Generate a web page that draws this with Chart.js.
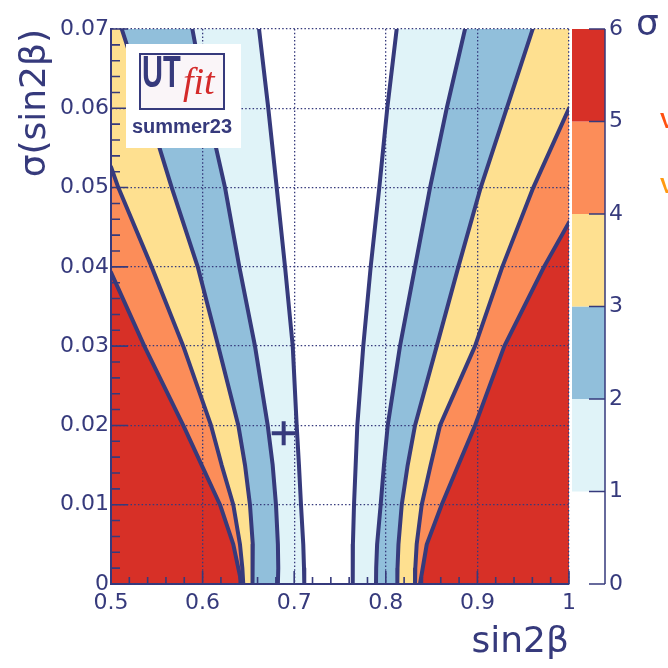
<!DOCTYPE html>
<html>
<head>
<meta charset="utf-8">
<script src="https://cdn.jsdelivr.net/npm/chart.js@4.4.1/dist/chart.umd.min.js"></script>
<style>
  html, body { margin: 0; padding: 0; background: #fff; }
</style>
</head>
<body>
<canvas id="sigmaMap" width="668" height="668"></canvas>
<script>
// sigma(sin2b) levels where the contours are sampled
const sigmaLevelsY = [0.07, 0.06, 0.05, 0.04, 0.03, 0.02, 0.015, 0.01, 0.005, 0.002, 0];

// sin2b positions of each n-sigma contour, left branch
const left1Sigma = [0.6616, 0.6717, 0.6809, 0.6900, 0.6984, 0.7027, 0.7052, 0.7074, 0.7099, 0.7107, 0.7110];
const left2Sigma = [0.5888, 0.6049, 0.6245, 0.6401, 0.6572, 0.6711, 0.6765, 0.6801, 0.6822, 0.6826, 0.6822];
const left3Sigma = [0.5117, 0.5397, 0.5663, 0.5947, 0.6171, 0.6390, 0.6463, 0.6517, 0.6548, 0.6550, 0.6540];
const left4SigmaY = [0.0526, 0.05, 0.04, 0.03, 0.02, 0.015, 0.01, 0.005, 0.002, 0];
const left4Sigma = [0.5, 0.5080, 0.5444, 0.5789, 0.6092, 0.6208, 0.6335, 0.6408, 0.6434, 0.6444];
const left5SigmaY = [0.0393, 0.03, 0.02, 0.015, 0.01, 0.005, 0.002, 0];
const left5Sigma = [0.5, 0.5364, 0.5789, 0.5990, 0.6190, 0.6335, 0.6390, 0.6427];

// right branch
const right1Sigma = [0.8119, 0.8016, 0.7929, 0.7835, 0.7754, 0.7689, 0.7671, 0.7653, 0.7641, 0.7639, 0.7639];
const right2Sigma = [0.8865, 0.8665, 0.8483, 0.8319, 0.8155, 0.8021, 0.7980, 0.7944, 0.7905, 0.7895, 0.7893];
const right3Sigma = [0.9604, 0.9320, 0.9036, 0.8792, 0.8556, 0.8319, 0.8239, 0.8174, 0.8138, 0.8128, 0.8126];
const right4SigmaY = [0.06, 0.05, 0.04, 0.03, 0.02, 0.015, 0.01, 0.005, 0.002, 0];
const right4Sigma = [1.0, 0.9610, 0.9272, 0.8974, 0.8592, 0.8490, 0.8392, 0.8337, 0.8322, 0.8319];
const right5SigmaY = [0.0456, 0.04, 0.03, 0.02, 0.015, 0.01, 0.005, 0.002, 0];
const right5Sigma = [1.0, 0.9727, 0.9294, 0.8974, 0.8792, 0.8610, 0.8447, 0.8403, 0.8373];

// best fit point
const bestFitX = [0.6885];
const bestFitY = [0.019];

// colour scale: n-sigma bands
const colorLevels = [0, 1, 2, 3, 4, 5, 6];
const bandColors = ["#ffffff", "#e0f3f8", "#91bfdb", "#fee090", "#fc8d59", "#d73027"];

const navy = "#363a7c";
const plotLeft = 111;
const plotRight = 569;
const plotBottom = 584;

Chart.defaults.font.family = "DejaVu Sans";

const toPoints = (xs, ys) => xs.map((x, i) => ({ x: x, y: ys[i] }));

// closed shape from a contour to the plot edge
const band = (xs, ys, edgeX) => {
  const pts = toPoints(xs, ys);
  pts.push({ x: edgeX, y: 0 });
  pts.push({ x: edgeX, y: ys[0] });
  return pts;
};

const contours = [
  { xs: left1Sigma, ys: sigmaLevelsY, edge: 0.5, level: 1 },
  { xs: left2Sigma, ys: sigmaLevelsY, edge: 0.5, level: 2 },
  { xs: left3Sigma, ys: sigmaLevelsY, edge: 0.5, level: 3 },
  { xs: left4Sigma, ys: left4SigmaY, edge: 0.5, level: 4 },
  { xs: left5Sigma, ys: left5SigmaY, edge: 0.5, level: 5 },
  { xs: right1Sigma, ys: sigmaLevelsY, edge: 1.0, level: 1 },
  { xs: right2Sigma, ys: sigmaLevelsY, edge: 1.0, level: 2 },
  { xs: right3Sigma, ys: sigmaLevelsY, edge: 1.0, level: 3 },
  { xs: right4Sigma, ys: right4SigmaY, edge: 1.0, level: 4 },
  { xs: right5Sigma, ys: right5SigmaY, edge: 1.0, level: 5 },
];

let datasets = [];

contours.forEach((c) => {
  datasets.push({
    data: band(c.xs, c.ys, c.edge),
    showLine: true,
    fill: "shape",
    backgroundColor: bandColors[c.level],
    borderWidth: 0,
    pointRadius: 0,
    order: 30 - c.level,
  });
});

contours.forEach((c) => {
  datasets.push({
    data: toPoints(c.xs, c.ys),
    showLine: true,
    fill: false,
    borderColor: navy,
    borderWidth: 4,
    borderJoinStyle: "round",
    borderCapStyle: "round",
    pointRadius: 0,
    order: 5,
  });
});

datasets.push({
  data: toPoints(bestFitX, bestFitY),
  pointStyle: "cross",
  pointRadius: 12,
  borderColor: navy,
  borderWidth: 4,
  order: 1,
});

// inner ticks, colour bar, logo and side labels
const frameDecor = {
  id: "frameDecor",
  afterDraw(chart) {
    const ctx = chart.ctx;
    const xs = chart.scales.x;
    const ys = chart.scales.y;
    const zs = chart.scales.z;
    ctx.save();

    // inward axis ticks
    ctx.strokeStyle = navy;
    ctx.lineWidth = 1.6;
    ctx.beginPath();
    for (let k = 0; k <= 25; k++) {
      const px = xs.getPixelForValue(0.5 + k * 0.02);
      const len = k % 5 === 0 ? 13 : 7;
      ctx.moveTo(px, plotBottom);
      ctx.lineTo(px, plotBottom - len);
    }
    for (let k = 0; k <= 35; k++) {
      const py = ys.getPixelForValue(k * 0.002);
      const len = k % 5 === 0 ? 17 : 9;
      ctx.moveTo(plotLeft, py);
      ctx.lineTo(plotLeft + len, py);
    }
    ctx.stroke();

    // colour bar
    const barL = 572, barR = 605;
    for (let i = 0; i < bandColors.length; i++) {
      const y0 = zs.getPixelForValue(colorLevels[i]);
      const y1 = zs.getPixelForValue(colorLevels[i + 1]);
      ctx.fillStyle = bandColors[i];
      ctx.fillRect(barL, y1, barR - barL, y0 - y1);
    }
    ctx.strokeStyle = navy;
    ctx.lineWidth = 1.5;
    ctx.beginPath();
    ctx.moveTo(barR, zs.getPixelForValue(0));
    ctx.lineTo(barR, zs.getPixelForValue(6));
    colorLevels.forEach((v) => {
      const py = zs.getPixelForValue(v);
      ctx.moveTo(barR, py);
      ctx.lineTo(barR - 16, py);
    });
    ctx.stroke();

    ctx.fillStyle = navy;
    ctx.font = "36px 'DejaVu Sans'";
    ctx.textBaseline = "alphabetic";
    ctx.fillText("σ", 636, 35);

    // cut off marks at the right border
    ctx.font = "bold 22px 'Liberation Sans'";
    ctx.fillStyle = "#ff5010";
    ctx.fillText("V", 660, 128);
    ctx.fillStyle = "#ff9a10";
    ctx.fillText("V", 660, 193);

    // UTfit logo
    ctx.fillStyle = "#ffffff";
    ctx.fillRect(126, 44, 115, 104);
    ctx.fillStyle = "#faf5f8";
    ctx.fillRect(140, 54, 84, 55);
    ctx.strokeStyle = navy;
    ctx.lineWidth = 2;
    ctx.strokeRect(140, 54, 84, 55);

    ctx.save();
    ctx.translate(142, 87);
    ctx.scale(0.66, 1);
    ctx.fillStyle = navy;
    ctx.font = "bold 44px 'Liberation Sans'";
    ctx.fillText("UT", 0, 0);
    ctx.restore();

    ctx.fillStyle = "#d42a2a";
    ctx.font = "italic 38px 'Liberation Serif'";
    ctx.fillText("fit", 183, 94);

    ctx.fillStyle = navy;
    ctx.font = "bold 20px 'Liberation Sans'";
    ctx.fillText("summer23", 132, 133);

    ctx.restore();
  },
};

const tickText = (v) => String(Math.round(v * 1000) / 1000);

const sigmaChart = new Chart(document.getElementById("sigmaMap"), {
  type: "scatter",
  data: { datasets: datasets },
  options: {
    responsive: false,
    devicePixelRatio: 1,
    animation: false,
    layout: { padding: { top: 29, left: 0, right: 0, bottom: 0 } },
    plugins: {
      legend: { display: false },
      tooltip: { enabled: false },
    },
    scales: {
      x: {
        type: "linear",
        min: 0.5,
        max: 1.0,
        afterFit: (s) => { s.height = 668 - plotBottom; },
        ticks: { stepSize: 0.1, color: navy, font: { size: 22 }, padding: 6, maxRotation: 0, autoSkip: false, callback: tickText },
        grid: { display: true, color: navy, lineWidth: 1.3, drawTicks: false, z: 1 },
        border: { display: true, color: navy, width: 2, dash: [1.5, 2.2], z: 1 },
        title: {
          display: true,
          text: "sin2β",
          align: "end",
          color: navy,
          font: { size: 36 },
          padding: { top: 0, bottom: 4 },
        },
      },
      y: {
        type: "linear",
        min: 0,
        max: 0.07,
        afterFit: (s) => { s.width = plotLeft; },
        ticks: { stepSize: 0.01, color: navy, font: { size: 22 }, padding: 2, autoSkip: false, callback: tickText },
        grid: { display: true, color: navy, lineWidth: 1.3, drawTicks: false, z: 1 },
        border: { display: true, color: navy, width: 2, dash: [1.5, 2.2], z: 1 },
        title: {
          display: true,
          text: "σ(sin2β)",
          align: "end",
          color: navy,
          font: { size: 36 },
          padding: { top: 14, bottom: 0 },
        },
      },
      z: {
        type: "linear",
        axis: "y",
        position: "right",
        min: 0,
        max: 6,
        afterFit: (s) => { s.width = 668 - plotRight; },
        ticks: { stepSize: 1, color: navy, font: { size: 22 }, padding: 2 },
        grid: { display: false, drawTicks: true, tickLength: 38 },
        border: { display: false },
      },
    },
  },
  plugins: [frameDecor],
});
</script>
</body>
</html>
